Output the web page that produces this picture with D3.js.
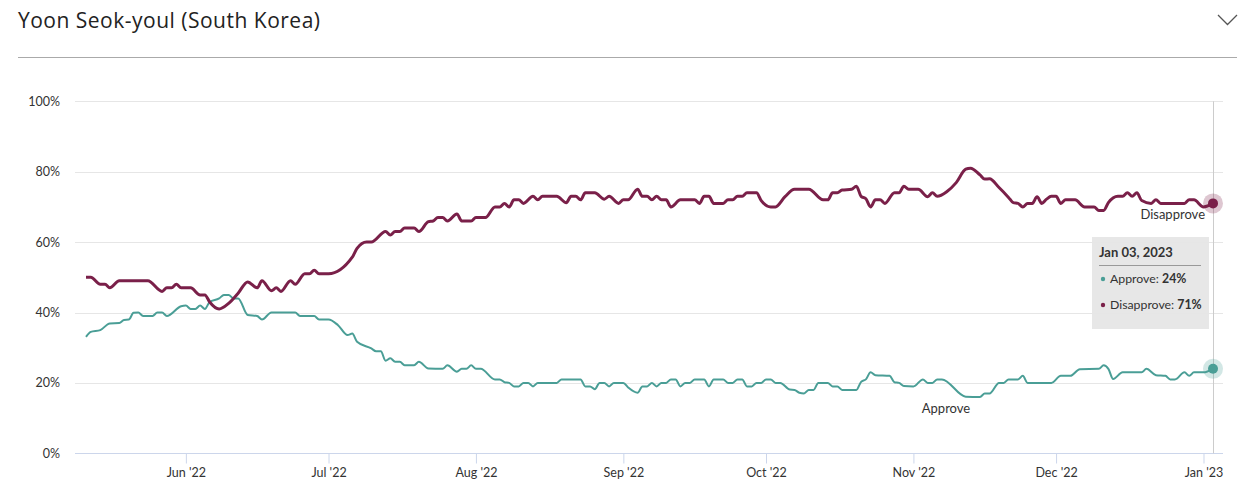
<!DOCTYPE html>
<html>
<head>
<meta charset="utf-8">
<script src="https://cdn.jsdelivr.net/npm/d3@7"></script>
<style>
  html, body { margin: 0; padding: 0; background: #fff; }
  svg { display: block; font-family: Lato, "Open Sans", sans-serif; }
</style>
</head>
<body>
<svg id="chart" width="1253" height="495"></svg>
<script>
const title = "Yoon Seok-youl (South Korea)";
const seriesNames = ["Approve", "Disapprove"];
const yTicks = [0, 20, 40, 60, 80, 100];
const xTickDates = ["2022-06-01","2022-07-01","2022-08-01","2022-09-01","2022-10-01","2022-11-01","2022-12-01","2023-01-01"];
const domainDates = ["2022-05-11", "2023-01-03"];
const tooltipDate = "Jan 03, 2023";

const approve = [
  ["2022-05-11",33.1],["2022-05-12",34.5],["2022-05-14",35],["2022-05-16",36.9],["2022-05-18",37],["2022-05-19",37.9],
  ["2022-05-20",38],["2022-05-21",39.9],["2022-05-22",40],["2022-05-23",39],["2022-05-25",39],["2022-05-26",40],
  ["2022-05-27",40],["2022-05-28",39],["2022-05-31",41.8],["2022-06-01",42],["2022-06-02",41],["2022-06-03",41],
  ["2022-06-04",42],["2022-06-05",41],["2022-06-06",43],["2022-06-08",44],["2022-06-09",45],["2022-06-10",45],
  ["2022-06-11",44],["2022-06-12",44],["2022-06-14",39.3],["2022-06-16",39],["2022-06-17",38],["2022-06-19",40],
  ["2022-06-24",40],["2022-06-25",39],["2022-06-28",39],["2022-06-29",38],["2022-07-01",38],["2022-07-03",36.4],
  ["2022-07-05",33.6],["2022-07-06",34],["2022-07-07",31.7],["2022-07-10",29.8],["2022-07-11",29],["2022-07-12",29],
  ["2022-07-13",26.3],["2022-07-14",27],["2022-07-15",26],["2022-07-16",26],["2022-07-17",25],["2022-07-19",25],
  ["2022-07-20",26],["2022-07-22",24.1],["2022-07-25",24],["2022-07-26",25],["2022-07-28",23.2],["2022-07-29",24],
  ["2022-07-30",24],["2022-07-31",25],["2022-08-01",24],["2022-08-02",24],["2022-08-05",21],["2022-08-06",21],
  ["2022-08-07",20.2],["2022-08-08",20],["2022-08-09",19],["2022-08-10",19],["2022-08-11",20],["2022-08-12",20],
  ["2022-08-13",19],["2022-08-14",20],["2022-08-18",20],["2022-08-19",21],["2022-08-23",21],["2022-08-24",19],
  ["2022-08-25",19],["2022-08-26",18.2],["2022-08-27",20],["2022-08-28",20],["2022-08-29",19],["2022-08-30",20],
  ["2022-09-01",20],["2022-09-02",18.7],["2022-09-04",17.2],["2022-09-05",19],["2022-09-06",19],["2022-09-07",20],
  ["2022-09-08",19],["2022-09-09",20],["2022-09-10",20],["2022-09-11",21],["2022-09-12",21],["2022-09-13",19],
  ["2022-09-14",20],["2022-09-15",20],["2022-09-16",21],["2022-09-18",21],["2022-09-19",19],["2022-09-20",21],
  ["2022-09-22",21],["2022-09-23",20],["2022-09-24",20],["2022-09-25",21],["2022-09-26",21],["2022-09-27",19],
  ["2022-09-28",19],["2022-09-29",20],["2022-09-30",20],["2022-10-01",21],["2022-10-02",21],["2022-10-03",20],
  ["2022-10-04",20],["2022-10-06",18.1],["2022-10-07",18],["2022-10-08",17.2],["2022-10-09",17],["2022-10-10",18],
  ["2022-10-11",18],["2022-10-12",20],["2022-10-14",20],["2022-10-15",19],["2022-10-16",19],["2022-10-17",18],
  ["2022-10-20",18],["2022-10-21",20.3],["2022-10-22",21],["2022-10-23",23],["2022-10-24",22.2],["2022-10-27",22],
  ["2022-10-28",20.2],["2022-10-29",20],["2022-10-30",19.1],["2022-11-01",19],["2022-11-03",21],["2022-11-04",20],
  ["2022-11-05",20],["2022-11-06",21],["2022-11-07",21],["2022-11-12",16.1],["2022-11-15",16],["2022-11-16",17],
  ["2022-11-17",17],["2022-11-19",20],["2022-11-20",20],["2022-11-21",21],["2022-11-23",21],["2022-11-24",22],
  ["2022-11-25",20],["2022-11-30",20],["2022-12-02",22],["2022-12-04",22],["2022-12-06",23.9],["2022-12-10",24],
  ["2022-12-11",25],["2022-12-12",24],["2022-12-13",21.1],["2022-12-15",23],["2022-12-19",23],["2022-12-20",24],
  ["2022-12-22",22.2],["2022-12-24",22],["2022-12-25",21],["2022-12-26",21],["2022-12-28",23],["2022-12-29",22],
  ["2022-12-30",23],["2023-01-01",23],["2023-01-03",24]
];

const disapprove = [
  ["2022-05-11",50],["2022-05-12",50],["2022-05-14",48],["2022-05-15",48],["2022-05-16",47],["2022-05-18",49],
  ["2022-05-24",49],["2022-05-27",46],["2022-05-28",47],["2022-05-29",47],["2022-05-30",48],["2022-05-31",47],
  ["2022-06-02",47],["2022-06-04",45],["2022-06-05",45],["2022-06-06",43],["2022-06-08",41],["2022-06-10",42.6],
  ["2022-06-12",45.5],["2022-06-14",48.7],["2022-06-16",47],["2022-06-17",49],["2022-06-19",46.2],["2022-06-20",47],
  ["2022-06-21",46],["2022-06-23",49],["2022-06-24",48],["2022-06-26",51],["2022-06-27",51],["2022-06-28",52],
  ["2022-06-29",51],["2022-07-01",51],["2022-07-06",55.7],["2022-07-07",58.2],["2022-07-09",60],["2022-07-10",60],
  ["2022-07-13",63],["2022-07-14",62],["2022-07-15",63],["2022-07-16",63],["2022-07-17",64],["2022-07-19",64],
  ["2022-07-20",63],["2022-07-22",65.8],["2022-07-23",66],["2022-07-24",67],["2022-07-25",67],["2022-07-26",66],
  ["2022-07-28",68],["2022-07-29",66],["2022-07-31",66],["2022-08-01",67],["2022-08-03",67],["2022-08-05",70],
  ["2022-08-06",70],["2022-08-07",71],["2022-08-08",70],["2022-08-09",72],["2022-08-10",72],["2022-08-11",71],
  ["2022-08-13",73],["2022-08-14",72],["2022-08-15",73],["2022-08-18",73],["2022-08-20",71.2],["2022-08-21",73],
  ["2022-08-22",73],["2022-08-23",72],["2022-08-24",74],["2022-08-26",74],["2022-08-28",72.2],["2022-08-29",73],
  ["2022-08-31",71],["2022-09-01",72],["2022-09-02",72],["2022-09-04",75],["2022-09-05",73],["2022-09-06",73],
  ["2022-09-07",72],["2022-09-08",73],["2022-09-09",72],["2022-09-10",72],["2022-09-11",70],["2022-09-13",72],
  ["2022-09-16",72],["2022-09-17",71],["2022-09-18",73],["2022-09-19",73],["2022-09-20",71],["2022-09-22",71],
  ["2022-09-23",72],["2022-09-24",72],["2022-09-25",73],["2022-09-26",73],["2022-09-27",74],["2022-09-29",74],
  ["2022-09-30",71.8],["2022-10-02",70],["2022-10-03",70],["2022-10-05",72.9],["2022-10-07",75],["2022-10-10",75],
  ["2022-10-13",72],["2022-10-14",72],["2022-10-15",74],["2022-10-16",74],["2022-10-17",74.8],["2022-10-19",75],
  ["2022-10-20",75.9],["2022-10-21",73],["2022-10-22",72.3],["2022-10-23",70],["2022-10-24",72],["2022-10-25",72],
  ["2022-10-26",71],["2022-10-28",74],["2022-10-29",74],["2022-10-30",75.9],["2022-10-31",75],["2022-11-02",75],
  ["2022-11-04",72.9],["2022-11-05",74],["2022-11-06",73],["2022-11-08",74.3],["2022-11-10",76.9],["2022-11-12",80.7],
  ["2022-11-13",81],["2022-11-15",79.1],["2022-11-16",77.9],["2022-11-17",78],["2022-11-19",75.5],["2022-11-21",72.7],
  ["2022-11-22",71.2],["2022-11-23",71],["2022-11-24",70],["2022-11-25",71],["2022-11-26",71],["2022-11-27",72.9],
  ["2022-11-28",71],["2022-11-29",72.2],["2022-11-30",73],["2022-12-01",73],["2022-12-02",71],["2022-12-03",72],
  ["2022-12-05",72],["2022-12-07",70],["2022-12-09",70],["2022-12-10",69],["2022-12-11",69],["2022-12-12",71.2],
  ["2022-12-14",73],["2022-12-15",73],["2022-12-16",74],["2022-12-17",73],["2022-12-18",74],["2022-12-19",71.8],
  ["2022-12-21",71],["2022-12-22",72],["2022-12-23",71],["2022-12-28",71],["2022-12-29",72],["2022-12-30",72],
  ["2023-01-01",70],["2023-01-03",71]
];

const colors = { approve: "#4a9e96", disapprove: "#7a2049" };

const parse = d3.timeParse("%Y-%m-%d");
const svg = d3.select("#chart");

// header
svg.append("text").attr("x", 18).attr("y", 28)
  .attr("font-family", "'Open Sans', sans-serif")
  .attr("font-size", 21).attr("fill", "#222")
  .attr("textLength", 302).attr("lengthAdjust", "spacing").text(title);
svg.append("path").attr("d", "M1218,15 L1227.5,24.5 L1237,15")
  .attr("fill", "none").attr("stroke", "#555").attr("stroke-width", 1.3);
svg.append("line").attr("x1", 18).attr("x2", 1237).attr("y1", 57.5).attr("y2", 57.5)
  .attr("stroke", "#aaa").attr("stroke-width", 1);

const x = d3.scaleTime().domain(domainDates.map(parse)).range([86, 1213]);
const y = d3.scaleLinear().domain([0, 100]).range([453.3, 101.3]);
const gridX0 = 75, gridX1 = 1223;

// grid
svg.append("g").selectAll("line").data(yTicks.filter(t => t > 0)).join("line")
  .attr("x1", gridX0).attr("x2", gridX1)
  .attr("y1", d => Math.round(y(d)) + 0.5).attr("y2", d => Math.round(y(d)) + 0.5)
  .attr("stroke", "#e6e6e6");

// y labels
const yAxis = svg.append("g").attr("transform", `translate(${gridX0},0)`)
  .call(d3.axisLeft(y).tickValues(yTicks).tickFormat(d => d + "%").tickSize(0).tickPadding(15));
yAxis.select(".domain").remove();
yAxis.selectAll("text").attr("font-family", "Lato, 'Open Sans', sans-serif").attr("font-size", 12.5).attr("fill", "#333");

// x axis
svg.append("line").attr("x1", gridX0).attr("x2", gridX1)
  .attr("y1", Math.round(y(0)) + 0.5).attr("y2", Math.round(y(0)) + 0.5).attr("stroke", "#ccd6eb");
const xAxis = svg.append("g").attr("transform", `translate(0,${Math.round(y(0)) + 0.5})`)
  .call(d3.axisBottom(x).tickValues(xTickDates.map(parse)).tickFormat(d3.timeFormat("%b '%y")).tickSize(10).tickPadding(5));
xAxis.select(".domain").remove();
xAxis.selectAll(".tick line").attr("stroke", "#ccd6eb");
xAxis.selectAll("text").attr("font-family", "Lato, 'Open Sans', sans-serif").attr("font-size", 12.5).attr("fill", "#333");

// hover line
svg.append("line").attr("x1", x(parse(domainDates[1])) + 0.5).attr("x2", x(parse(domainDates[1])) + 0.5)
  .attr("y1", y(100)).attr("y2", y(0)).attr("stroke", "#cccccc");

const line = d3.line().x(d => x(parse(d[0]))).y(d => y(d[1])).curve(d3.curveMonotoneX);

svg.append("path").datum(approve).attr("d", line).attr("fill", "none")
  .attr("stroke", colors.approve).attr("stroke-width", 2).attr("stroke-linejoin", "round");
svg.append("path").datum(disapprove).attr("d", line).attr("fill", "none")
  .attr("stroke", colors.disapprove).attr("stroke-width", 3).attr("stroke-linejoin", "round");

// end markers
const lastA = approve[approve.length - 1], lastD = disapprove[disapprove.length - 1];
[[lastA, colors.approve], [lastD, colors.disapprove]].forEach(([p, c]) => {
  svg.append("circle").attr("cx", x(parse(p[0]))).attr("cy", y(p[1])).attr("r", 10).attr("fill", c).attr("opacity", 0.25);
  svg.append("circle").attr("cx", x(parse(p[0]))).attr("cy", y(p[1])).attr("r", 5).attr("fill", c);
});

// series labels
svg.append("text").attr("x", 1205).attr("y", 219).attr("text-anchor", "end")
  .attr("font-size", 13).attr("fill", "#333").text(seriesNames[1]);
svg.append("text").attr("x", 946).attr("y", 413).attr("text-anchor", "middle")
  .attr("font-size", 13).attr("fill", "#333").text(seriesNames[0]);

// tooltip
const tt = svg.append("g");
tt.append("rect").attr("x", 1092).attr("y", 237).attr("width", 117).attr("height", 92).attr("fill", "#e6e6e6").attr("opacity", 0.95);
tt.append("text").attr("x", 1099).attr("y", 257).attr("font-size", 13).attr("font-weight", 700).attr("fill", "#333").text(tooltipDate);
tt.append("line").attr("x1", 1099).attr("x2", 1201).attr("y1", 265.5).attr("y2", 265.5).attr("stroke", "#999");
[[lastA, colors.approve, seriesNames[0], 283], [lastD, colors.disapprove, seriesNames[1], 309]].forEach(([p, c, n, yy]) => {
  tt.append("circle").attr("cx", 1103).attr("cy", yy - 4).attr("r", 2.2).attr("fill", c);
  const t = tt.append("text").attr("x", 1110).attr("y", yy).attr("font-size", 12.3).attr("fill", "#333");
  t.append("tspan").text(n + ": ");
  t.append("tspan").attr("font-weight", 700).text(Math.round(p[1]) + "%");
});
</script>
</body>
</html>
